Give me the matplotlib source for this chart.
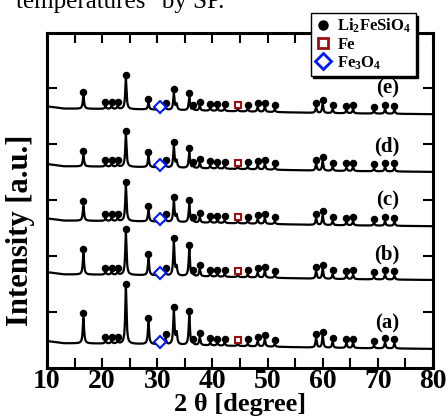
import numpy as np
import matplotlib
matplotlib.use("Agg")
import matplotlib.pyplot as plt
from matplotlib.ticker import MultipleLocator, FuncFormatter
from matplotlib.lines import Line2D

# peak positions (2 theta) of Li2FeSiO4, marked with dots
li_pos = [16.6, 20.6, 21.7, 22.8, 24.3, 28.4, 31.5, 33.0, 35.8, 36.5, 37.7, 39.6, 40.9, 42.2,
          46.4, 48.2, 49.5, 51.3, 58.8, 60.0, 61.8, 64.3, 65.5, 69.3, 71.3, 73.0]
# peak heights above baseline for patterns (a)..(e)
li_a = [0.46, 0.05, 0.05, 0.05, 1.00, 0.39, 0.11, 0.59, 0.53, 0.03, 0.14, 0.05, 0.05, 0.05,
        0.05, 0.09, 0.13, 0.05, 0.17, 0.21, 0.10, 0.09, 0.09, 0.05, 0.11, 0.09]
li_b = [0.38, 0.05, 0.05, 0.05, 0.75, 0.30, 0.07, 0.60, 0.49, 0.03, 0.13, 0.05, 0.05, 0.05,
        0.05, 0.09, 0.12, 0.05, 0.13, 0.18, 0.08, 0.07, 0.08, 0.05, 0.09, 0.07]
li_c = [0.27, 0.05, 0.05, 0.05, 0.63, 0.20, 0.06, 0.38, 0.32, 0.03, 0.09, 0.05, 0.05, 0.05,
        0.05, 0.08, 0.10, 0.05, 0.12, 0.17, 0.07, 0.06, 0.07, 0.05, 0.08, 0.07]
li_d = [0.20, 0.05, 0.05, 0.05, 0.57, 0.20, 0.06, 0.38, 0.28, 0.03, 0.09, 0.05, 0.05, 0.05,
        0.05, 0.08, 0.10, 0.05, 0.12, 0.17, 0.07, 0.06, 0.07, 0.05, 0.08, 0.07]
li_e = [0.23, 0.05, 0.05, 0.05, 0.54, 0.12, 0.05, 0.30, 0.23, 0.03, 0.08, 0.05, 0.05, 0.05,
        0.05, 0.08, 0.09, 0.05, 0.10, 0.16, 0.07, 0.06, 0.07, 0.05, 0.08, 0.07]
# unmarked shoulder next to 33.0 and the weak Fe / Fe3O4 peaks
extra_pos = [33.5, 44.6, 30.4]
extra_h = [[0.20, 0.04, 0.02], [0.15, 0.04, 0.02], [0.12, 0.04, 0.02],
           [0.12, 0.04, 0.02], [0.10, 0.04, 0.02]]
fe_pos = 44.6
fe3o4_pos = 30.4

names = ["(a)", "(b)", "(c)", "(d)", "(e)"]
start = [0.48, 1.71, 2.67, 3.64, 4.67]   # baseline level at 10 deg
# baseline drift shared by all patterns
base_x = [10, 13, 25, 45, 60, 80]
base_dy = [0.0, -0.04, -0.05, -0.09, -0.12, -0.14]

heights = [li_a, li_b, li_c, li_d, li_e]

plt.rcParams['font.family'] = ['Liberation Serif', 'DejaVu Serif']
plt.rcParams['mathtext.fontset'] = 'custom'
plt.rcParams['mathtext.rm'] = 'Liberation Serif:bold'
plt.rcParams['mathtext.it'] = 'Liberation Serif:bold'
plt.rcParams['mathtext.bf'] = 'Liberation Serif:bold'

fig = plt.figure(figsize=(4.48, 4.2), dpi=100)
ax = fig.add_axes([0.105, 0.124, 0.8615, 0.7975])

sq_col = "#9b1010"
di_col = "#0018ff"

x = np.linspace(10, 80, 3000)
g = 0.14  # peak half width
for i in range(5):
    base = start[i] + np.interp(x, base_x, base_dy)
    y = base.copy()
    for p, h in zip(li_pos, heights[i]):
        y += h / (1 + ((x - p) / g) ** 2)
    for p, h in zip(extra_pos, extra_h[i]):
        y += h / (1 + ((x - p) / g) ** 2)
    ax.plot(x, y, color="black", lw=1.6)
    bp = start[i] + np.interp(li_pos, base_x, base_dy)
    ax.plot(li_pos, bp + np.array(heights[i]) + 0.075, "o", color="black", ms=4.4)
    ax.plot([fe_pos], [start[i] + np.interp(fe_pos, base_x, base_dy) + 0.11], "s",
            mfc="white", mec=sq_col, mew=1.5, ms=5)
    ax.plot([fe3o4_pos], [start[i] + np.interp(fe3o4_pos, base_x, base_dy) + 0.05], "D",
            mfc="white", mec=di_col, mew=1.5, ms=6.5)
    ax.text(71.7, start[i] + 0.32, names[i], fontsize=15, fontweight="bold",
            ha="center", va="center")

ax.set_xlim(10, 80)
ax.set_ylim(0, 5.98)
ax.xaxis.set_major_locator(MultipleLocator(5))
ax.xaxis.set_major_formatter(FuncFormatter(lambda v, p: "%d" % v if v % 10 == 0 else ""))
ax.set_yticks([1, 2, 3, 4, 5])
ax.set_yticklabels([])
ax.tick_params(direction="in", length=7, width=1.5, top=True, right=True,
               labelsize=20, pad=1)
for lab in ax.get_xticklabels():
    lab.set_fontweight("bold")
for s in ax.spines.values():
    s.set_linewidth(2.2)

ax.set_xlabel("2 θ [degree]", fontsize=19, fontweight="bold", labelpad=-1)
ax.set_ylabel("Intensity [a.u.]", fontsize=22, fontweight="bold")
ax.yaxis.set_label_coords(-0.03, 0.41)

handles = [Line2D([], [], ls="none", marker="o", color="black", ms=6.5),
           Line2D([], [], ls="none", marker="s", mfc="white", mec=sq_col, mew=2, ms=6.5),
           Line2D([], [], ls="none", marker="D", mfc="white", mec=di_col, mew=2, ms=8)]
leg = ax.legend(handles, ["Li$_2$FeSiO$_4$", "Fe", "Fe$_3$O$_4$"], loc="upper right",
                bbox_to_anchor=(0.955, 1.06), prop={"weight": "bold", "size": 12},
                frameon=True, shadow={"color": "black", "alpha": 1}, fancybox=False,
                borderpad=0.25, labelspacing=0.08, handletextpad=0.35,
                handlelength=1.0, borderaxespad=0, framealpha=1)
leg.get_frame().set_edgecolor("black")
leg.get_frame().set_linewidth(1.0)

fig.text(0.035, 0.982, "temperatures\" by SP.", fontsize=18, va="baseline", ha="left")

fig.savefig("out.png", dpi=100)
